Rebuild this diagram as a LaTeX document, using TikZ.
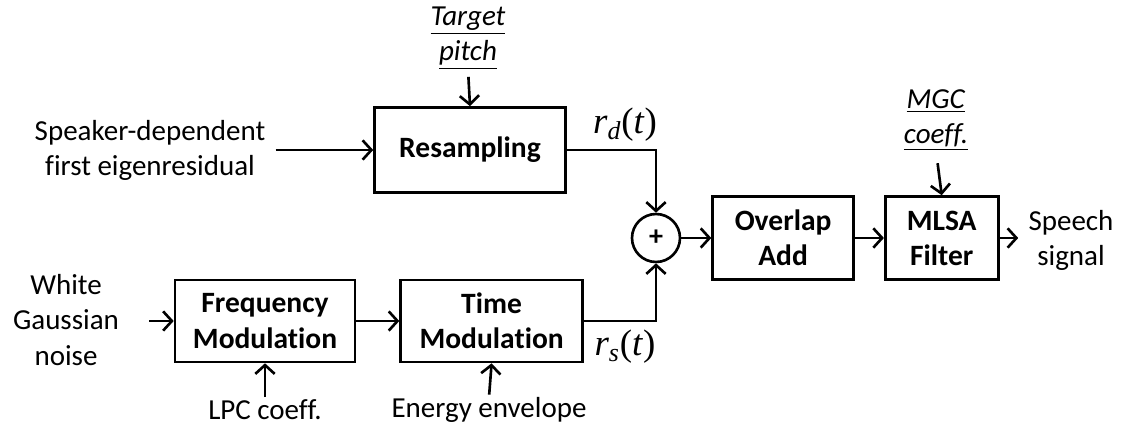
\documentclass[tikz,border=0pt]{standalone}
\usepackage{fontspec}
\setmainfont{Carlito}[Ligatures=NoCommon]
\newfontfamily\sigfont{Liberation Serif}
\usetikzlibrary{arrows.meta, positioning}
\tikzset{
  blockbox/.style={rectangle, draw=black, line width=1.5pt, align=center,
    font=\fontsize{16.8}{20}\selectfont\bfseries, inner sep=0pt},
  sumbox/.style={circle, draw=black, line width=1.5pt, minimum size=0.96cm,
    inner sep=0pt, font=\fontsize{16}{18}\selectfont\bfseries},
  intext/.style={align=center, font=\fontsize{16.5}{20}\selectfont, inner sep=0pt},
  sigtext/.style={font=\fontsize{21}{24}\selectfont\sigfont, inner sep=0pt},
  arrow/.style={-{Straight Barb[length=5pt, width=11pt]}, line width=1.5pt, color=black}
}
\begin{document}
\begin{tikzpicture}[x=0.02cm, y=-0.02cm]
  \useasboundingbox (0,0) rectangle (1130,436);

  % processing blocks
  \node[blockbox, minimum width=3.82cm, minimum height=1.7cm] (resamp) at (470,150) {Resampling};
  \node[blockbox, minimum width=3.6cm, minimum height=1.64cm] (freqmod) at (265,321)
        {Frequency\\Modulation};
  \node[blockbox, minimum width=3.64cm, minimum height=1.64cm, right=0.86cm of freqmod] (timemod)
        {Time\\Modulation};
  \node[sumbox] (sum) at (656,238) {+};
  \node[blockbox, minimum width=2.82cm, minimum height=1.66cm, right=0.6cm of sum] (ola)
        {Overlap\\Add};
  \node[blockbox, minimum width=2.26cm, minimum height=1.66cm, right=0.58cm of ola] (mlsa)
        {MLSA\\Filter};

  % inputs and outputs
  \node[intext] (pitch) at (468,38) {\underline{\textit{Target}}\\\underline{\textit{pitch}}};
  \node[intext] (mgc) at (936,120) {\underline{\textit{MGC}}\\\underline{\textit{coeff.}}};
  \node[intext] (eigen) at (150,150) {Speaker-dependent\\first eigenresidual};
  \node[intext] (noise) at (66,320) {White\\Gaussian\\noise};
  \node[intext] (lpc) at (265,410) {LPC coeff.};
  \node[intext] (energy) at (489,410) {Energy envelope};
  \node[intext] (speech) at (1071,240) {Speech\\signal};

  % signal labels
  \node[sigtext] (rd) at (625,125) {\textit{r}\textsubscript{\textit{d}}(\textit{t})};
  \node[sigtext] (rs) at (625,347) {\textit{r}\textsubscript{\textit{s}}(\textit{t})};

  % connectors
  \draw[arrow, shorten <=0.2cm] (eigen.east |- resamp.west) -- (resamp.west);
  \draw[arrow, shorten <=0.6cm] (noise.east |- freqmod.west) -- (freqmod.west);
  \draw[arrow] (freqmod) -- (timemod);
  \draw[arrow, shorten <=0.15cm] (pitch.south) -- (resamp.north);
  \draw[arrow, shorten <=0.25cm] (mgc.south) -- (mlsa.north);
  \draw[arrow, shorten <=0.05cm] (lpc.north) -- (freqmod.south);
  \draw[arrow, shorten <=0.05cm] (energy.north) -- (timemod.south);
  \draw[arrow] (resamp.east) -| (sum.north);
  \draw[arrow] (timemod.east) -| (sum.south);
  \draw[arrow] (sum) -- (ola);
  \draw[arrow] (ola) -- (mlsa);
  \draw[arrow, shorten >=0.2cm] (mlsa.east) -- (mlsa.east -| speech.west);
\end{tikzpicture}
\end{document}
